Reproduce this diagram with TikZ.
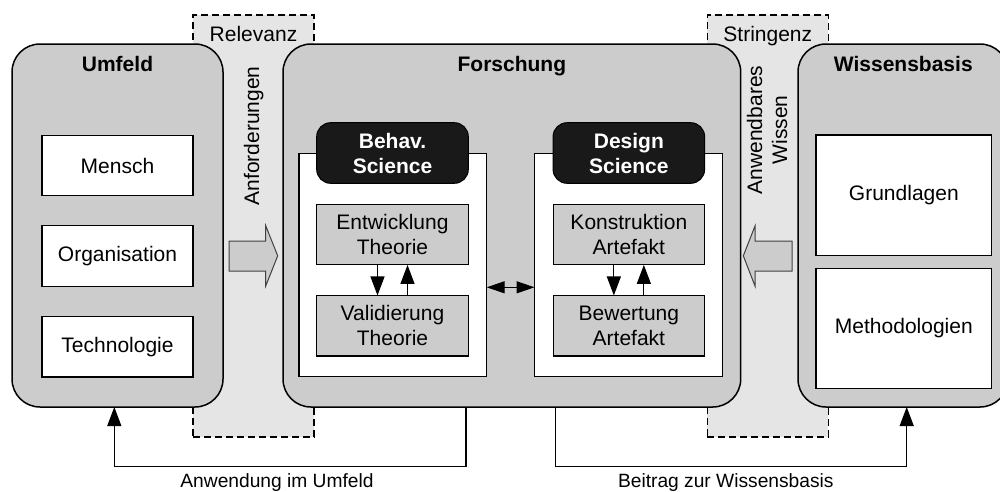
\documentclass[tikz,border=0pt]{standalone}
\usepackage{fontspec}
\setmainfont{Liberation Sans}
\usetikzlibrary{arrows.meta}
\definecolor{boxgray}{gray}{0.80}
\definecolor{stripgray}{gray}{0.90}
\definecolor{tabblack}{gray}{0.10}
\definecolor{arrowedge}{gray}{0.25}
\begin{document}
\begin{tikzpicture}[x=1pt,y=-1pt,
  every node/.style={inner sep=0pt, outer sep=0pt, font=\fontsize{21}{25}\selectfont},
  strip/.style={draw, fill=stripgray, line width=1.3pt, dash pattern=on 7pt off 4pt,
                minimum width=121pt, minimum height=422pt},
  bigbox/.style={draw, fill=boxgray, line width=1.5pt, rounded corners=28pt,
                 minimum height=363pt},
  title/.style={anchor=base, font=\fontsize{21}{25}\selectfont\bfseries},
  whitebox/.style={draw, fill=white, line width=1.2pt},
  panel/.style={draw, fill=white, line width=1.3pt, minimum width=187.7pt, minimum height=223.4pt},
  tab/.style={draw, fill=tabblack, rounded corners=14pt, line width=1pt,
              minimum width=151.6pt, minimum height=60.6pt, align=center,
              text=white, font=\fontsize{21}{25}\selectfont\bfseries},
  graybox/.style={draw, fill=boxgray, line width=1.1pt, minimum width=151.6pt,
                  minimum height=60.5pt, align=center},
  arr/.style={line width=1.2pt, -{Triangle[length=19pt,width=14pt]}},
  dblarr/.style={line width=1.2pt, {Triangle[length=18pt,width=12pt]}-{Triangle[length=18pt,width=12pt]}},
  blockarrow/.style={draw=arrowedge, fill=boxgray, line width=1pt, line join=miter},
  flowlabel/.style={anchor=base, font=\fontsize{19.2}{23}\selectfont}
]
\useasboundingbox (0,0) rectangle (1000,491);
\clip (0,0) rectangle (1000,491);

% dashed transfer strips
\node[strip] (relevanz) at (253.5,226) {};
\node[strip] (stringenz) at (767.8,226) {};
\node[anchor=base] (relt) at (253.5,41.5) {Relevanz};
\node[anchor=base] (strt) at (767.8,41.5) {Stringenz};

% three main areas
\node[bigbox, minimum width=211pt] (umf) at (117.5,225.5) {};
\node[bigbox, minimum width=457.7pt] (forsch) at (511.85,225.5) {};
\node[bigbox, minimum width=210pt] (wiss) at (903,225.5) {};
\node[title] (umft) at (117.5,71.7) {Umfeld};
\node[title] (forscht) at (511.85,71.7) {Forschung};
\node[title] (wisst) at (903.3,71.7) {Wissensbasis};

% Umfeld
\node[whitebox, minimum width=151pt, minimum height=60.5pt] (mensch) at (117.5,165.5) {Mensch};
\node[whitebox, minimum width=151pt, minimum height=60.5pt] (orga) at (117.5,256) {Organisation};
\node[whitebox, minimum width=151pt, minimum height=60.5pt] (tech) at (117.5,346.7) {Technologie};

% Wissensbasis
\node[whitebox, minimum width=175.7pt, minimum height=120.7pt] (grund) at (903.85,195.35) {Grundlagen};
\node[whitebox, minimum width=175.7pt, minimum height=120pt] (meth) at (903.85,328.3) {Methodologien};

% Forschung: behavioural science
\node[panel] (bpanel) at (392.85,265) {};
\node[tab] (btab) at (392.5,153) {Behav.\\Science};
\node[graybox] (ent) at (392.5,234.65) {Entwicklung\\Theorie};
\node[graybox] (val) at (392.5,325.7) {Validierung\\Theorie};
\draw[arr] ([xshift=-15pt]ent.south) -- ([xshift=-15pt]val.north);
\draw[arr] ([xshift=15pt]val.north) -- ([xshift=15pt]ent.south);

% Forschung: design science
\node[panel] (dpanel) at (628.35,265) {};
\node[tab] (dtab) at (628.85,153) {Design\\Science};
\node[graybox] (kon) at (628.85,234.65) {Konstruktion\\Artefakt};
\node[graybox] (bew) at (628.85,325.7) {Bewertung\\Artefakt};
\draw[arr] ([xshift=-15pt]kon.south) -- ([xshift=-15pt]bew.north);
\draw[arr] ([xshift=15pt]bew.north) -- ([xshift=15pt]kon.south);

\coordinate (mid) at (510,287.3);
\draw[dblarr] (bpanel.east |- mid) -- (dpanel.west |- mid);

% strip labels and block arrows
\node[rotate=90, anchor=base] (anf) at (259,136) {Anforderungen};
\node[rotate=90, align=center] (anw) at (767,130) {Anwendbares\\Wissen};
\draw[blockarrow] (229,241) -- (265.7,241) -- (265.7,225.7) -- (277.7,255.8)
  -- (265.7,286) -- (265.7,271) -- (229,271) -- cycle;
\draw[blockarrow] (792,241) -- (755,241) -- (755,226) -- (743.3,255.8)
  -- (755,286) -- (755,271) -- (792,271) -- cycle;

% feedback flows
\coordinate (a1) at (466,466.7);
\coordinate (a2) at (114.3,466.7);
\draw[arr] (a1 |- forsch.south) -- (a1) -- (a2) -- (a2 |- umf.south);
\coordinate (b1) at (555.7,466.7);
\coordinate (b2) at (906.7,466.7);
\draw[arr] (b1 |- forsch.south) -- (b1) -- (b2) -- (b2 |- wiss.south);
\node[flowlabel] (anwl) at (277,487) {Anwendung im Umfeld};
\node[flowlabel] (beil) at (725.8,487) {Beitrag zur Wissensbasis};
\end{tikzpicture}
\end{document}
